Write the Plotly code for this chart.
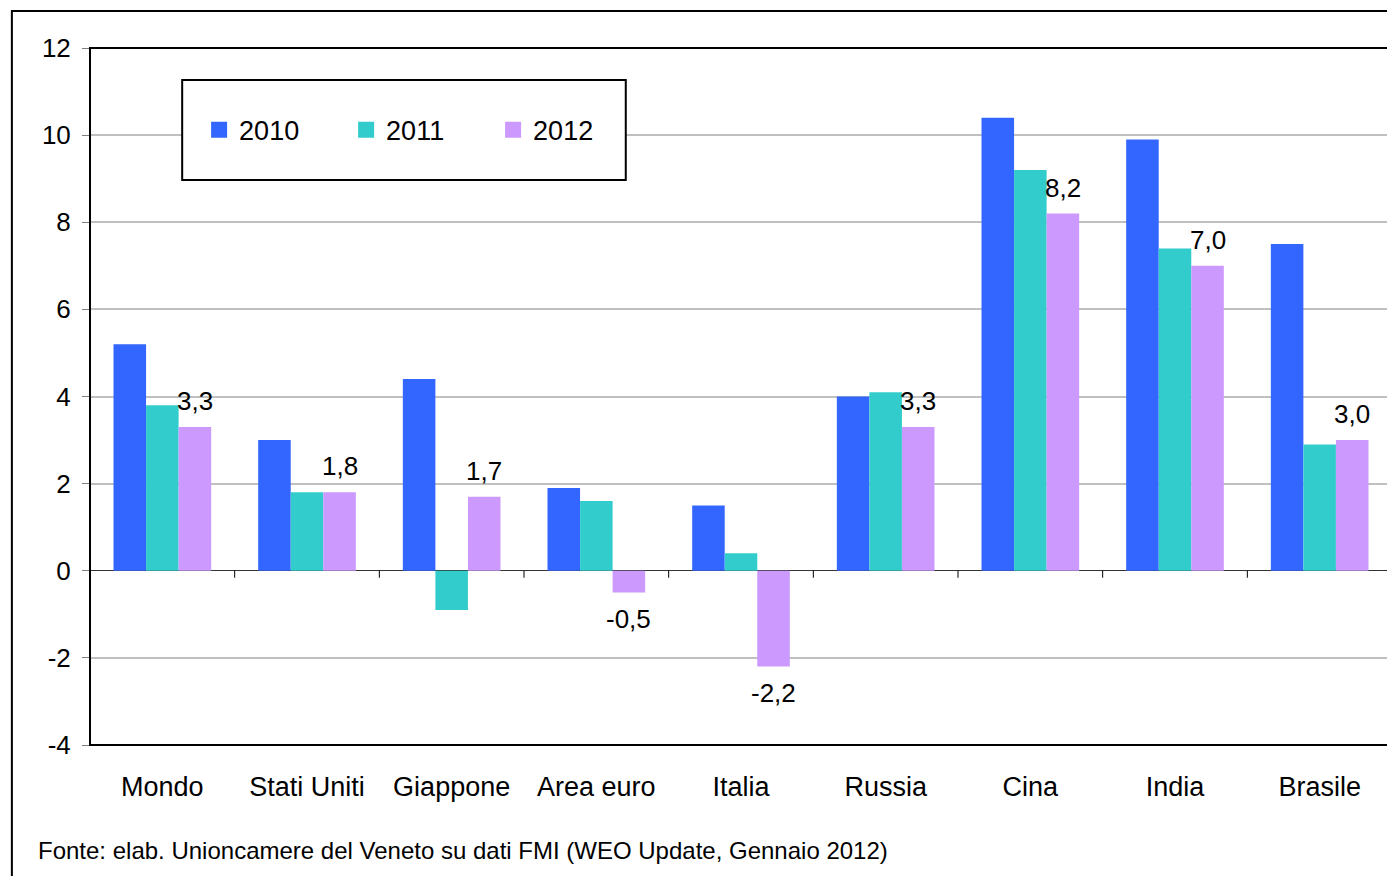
import plotly.graph_objects as go

categories = ["Mondo", "Stati Uniti", "Giappone", "Area euro", "Italia",
              "Russia", "Cina", "India", "Brasile"]
years = ["2010", "2011", "2012"]
v2010 = [5.2, 3.0, 4.4, 1.9, 1.5, 4.0, 10.4, 9.9, 7.5]
v2011 = [3.8, 1.8, -0.9, 1.6, 0.4, 4.1, 9.2, 7.4, 2.9]
v2012 = [3.3, 1.8, 1.7, -0.5, -2.2, 3.3, 8.2, 7.0, 3.0]
y_ticks = [-4, -2, 0, 2, 4, 6, 8, 10, 12]
source = "Fonte: elab. Unioncamere del Veneto su dati FMI (WEO Update, Gennaio 2012)"

colors = ["#3366FF", "#33CCCC", "#CC99FF"]
FONT = "Liberation Sans, Arial, sans-serif"

fig = go.Figure()
for name, vals, col in zip(years, [v2010, v2011, v2012], colors):
    fig.add_trace(go.Bar(x=categories, y=vals, name=name, showlegend=False,
                         marker=dict(color=col, line=dict(width=0))))
# legend entries with bigger square swatches
for name, col in zip(years, colors):
    fig.add_trace(go.Scatter(x=[None], y=[None], name=name, mode="markers",
                             marker=dict(symbol="square", size=16, color=col)))

# frame of the plot area + outer border + legend box
shapes = [
    dict(type="rect", xref="paper", yref="paper", x0=0, x1=1, y0=0, y1=1,
         line=dict(color="black", width=2)),
    dict(type="rect", xref="paper", yref="paper", x0=-0.06, x1=1.02, y0=-0.25, y1=1.053,
         line=dict(color="black", width=2)),
    dict(type="rect", xref="paper", yref="paper", x0=0.0708, x1=0.4115, y0=0.8106, y1=0.954,
         line=dict(color="black", width=2), fillcolor="white", layer="above"),
]
# small ticks on the zero line at category boundaries
for i in range(1, len(categories)):
    shapes.append(dict(type="line", xref="x", yref="y", x0=i - 0.5, x1=i - 0.5,
                       y0=0, y1=-0.16, line=dict(color="black", width=1)))

# value labels for 2012 (third bar in each group)
annotations = []
for cat, v in zip(categories, v2012):
    annotations.append(dict(
        x=cat, y=v, xref="x", yref="y", xshift=32.5, yshift=26 if v >= 0 else -26,
        text=f"{v:.1f}".replace(".", ","), showarrow=False,
        xanchor="center", yanchor="middle", font=dict(size=26, color="black")))
annotations.append(dict(text=source, xref="paper", yref="paper", x=-0.0415, y=-0.151,
                        xanchor="left", yanchor="middle", showarrow=False,
                        font=dict(size=24, color="black")))

fig.update_layout(
    width=1395, height=876,
    paper_bgcolor="white", plot_bgcolor="white",
    margin=dict(l=82, r=11, t=40, b=139),
    font=dict(family=FONT, size=26, color="black"),
    barmode="group", bargap=0.325, bargroupgap=0,
    showlegend=True,
    legend=dict(orientation="h", x=0.0838, y=0.882, xanchor="left", yanchor="middle",
                font=dict(size=27), bgcolor="rgba(0,0,0,0)", borderwidth=0,
                entrywidth=102, entrywidthmode="pixels", traceorder="normal"),
    shapes=shapes,
    annotations=annotations,
)
fig.update_xaxes(showgrid=False, showline=False, zeroline=False,
                 ticks="outside", ticklen=18, tickcolor="rgba(0,0,0,0)",
                 tickfont=dict(size=27))
fig.update_yaxes(range=[-4, 12], tickvals=y_ticks, ticktext=[str(t) for t in y_ticks],
                 showgrid=True, gridcolor="#C0C0C0", gridwidth=2,
                 zeroline=True, zerolinecolor="#333333", zerolinewidth=1,
                 ticks="outside", ticklen=7, tickcolor="#808080",
                 ticklabelstandoff=6, tickfont=dict(size=26), showline=False)

fig.write_html("out.html")
